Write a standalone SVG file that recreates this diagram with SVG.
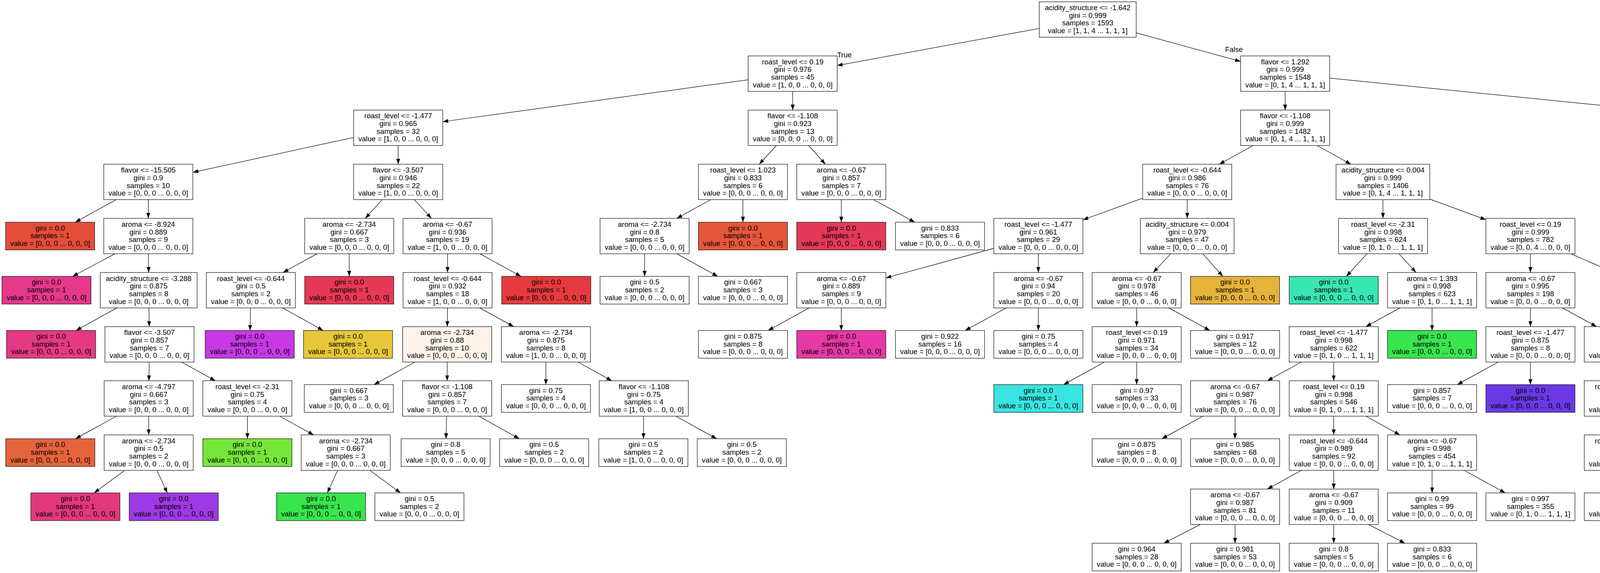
<svg xmlns="http://www.w3.org/2000/svg" width="6192" height="1468" viewBox="0 0 6192 1468">
<style>
text{font-family:"Liberation Sans",Arial,Helvetica,sans-serif;font-size:18.5px;text-anchor:middle;fill:#000}
#nodes rect{stroke:#1a1a1a;stroke-width:1.3}
#edges line,#edges path{stroke:#000;stroke-width:1.24;fill:none}
.lbl{text-anchor:middle}
</style>
<defs>
<marker id="arr" markerUnits="userSpaceOnUse" viewBox="0 0 14 10" refX="14" refY="5" markerWidth="14" markerHeight="10" orient="auto"><path d="M0,0L14,5L0,10z" fill="#000"/></marker>
</defs>
<rect x="0" y="0" width="6192" height="1468" fill="#fff"/>
<g id="edges" marker-end="url(#arr)">
<line x1="2660.6" y1="72.77" x2="2143.3" y2="167.77"/>
<line x1="2908.6" y1="84.03" x2="3176" y2="157.41"/>
<line x1="1915.3" y1="204.36" x2="1133.4" y2="311.74"/>
<line x1="2029.3" y1="234.05" x2="2029.3" y2="282.05"/>
<line x1="3290" y1="234.05" x2="3290" y2="282.05"/>
<line x1="3404" y1="200.14" x2="4558.7" y2="315.96"/>
<line x1="905.4" y1="352.11" x2="493.6" y2="441.39"/>
<line x1="1019.4" y1="372.75" x2="1019.4" y2="420.75"/>
<line x1="1987.64" y1="372.75" x2="1943.56" y2="420.75"/>
<line x1="2069.97" y1="372.75" x2="2113.03" y2="420.75"/>
<line x1="3208.03" y1="372.75" x2="3121.27" y2="420.75"/>
<line x1="3371.84" y1="372.75" x2="3458.46" y2="420.75"/>
<line x1="4672.9" y1="372.75" x2="4672.9" y2="420.75"/>
<line x1="4786.7" y1="358.78" x2="5062.6" y2="434.72"/>
<line x1="297.43" y1="511.45" x2="192.62" y2="569.3"/>
<line x1="379.6" y1="511.45" x2="379.6" y2="559.45"/>
<line x1="978.4" y1="511.45" x2="935" y2="559.45"/>
<line x1="1060.7" y1="511.45" x2="1104.4" y2="559.45"/>
<line x1="1819.6" y1="511.45" x2="1732.5" y2="559.45"/>
<line x1="1901.9" y1="511.45" x2="1901.9" y2="569.3"/>
<line x1="2153.7" y1="511.45" x2="2153.7" y2="569.3"/>
<line x1="2236.33" y1="511.45" x2="2341.72" y2="569.3"/>
<line x1="2925.3" y1="507.59" x2="2772.2" y2="563.31"/>
<line x1="3039.3" y1="511.45" x2="3039.3" y2="559.45"/>
<line x1="3540.4" y1="511.45" x2="3540.4" y2="559.45"/>
<line x1="3660.3" y1="510.18" x2="3803.9" y2="562.93"/>
<line x1="4631.8" y1="511.45" x2="4588.1" y2="559.45"/>
<line x1="4714.27" y1="511.45" x2="4766.78" y2="569.3"/>
<line x1="5176.6" y1="511.45" x2="5176.6" y2="559.45"/>
<line x1="5280.7" y1="511.45" x2="5390.9" y2="559.45"/>
<line x1="294.39" y1="650.15" x2="185.7" y2="708"/>
<line x1="379.6" y1="650.15" x2="380.6" y2="698.15"/>
<line x1="811.67" y1="650.15" x2="724.53" y2="698.15"/>
<line x1="894" y1="650.15" x2="894" y2="708"/>
<line x1="1145.7" y1="650.15" x2="1145.7" y2="698.15"/>
<line x1="1228.36" y1="650.15" x2="1333.8" y2="708"/>
<line x1="1650.2" y1="650.15" x2="1650.2" y2="708"/>
<line x1="1732.5" y1="650.15" x2="1837.48" y2="708"/>
<line x1="2544.2" y1="636.14" x2="2267.7" y2="712.16"/>
<line x1="2658.2" y1="650.15" x2="2658.2" y2="698.15"/>
<line x1="2996.99" y1="650.15" x2="2952.21" y2="698.15"/>
<line x1="3079.32" y1="650.15" x2="3130.37" y2="708"/>
<line x1="3499.34" y1="650.15" x2="3446.7" y2="708"/>
<line x1="3581.63" y1="650.15" x2="3625.07" y2="698.15"/>
<line x1="3917.9" y1="650.15" x2="3917.9" y2="698.15"/>
<line x1="4021.52" y1="650.15" x2="4131.18" y2="698.15"/>
<line x1="4527.25" y1="650.15" x2="4502.31" y2="708"/>
<line x1="4609.74" y1="650.15" x2="4690.03" y2="708"/>
<line x1="5115.91" y1="650.15" x2="5038.5" y2="708"/>
<line x1="5198.25" y1="650.15" x2="5221.15" y2="698.15"/>
<line x1="5495" y1="650.15" x2="5495" y2="708"/>
<line x1="5579.75" y1="650.15" x2="5669.45" y2="698.15"/>
<line x1="298.92" y1="788.85" x2="194.74" y2="846.7"/>
<line x1="381.25" y1="788.85" x2="381.95" y2="836.85"/>
<line x1="641.25" y1="788.85" x2="640.04" y2="846.7"/>
<line x1="723.55" y1="788.85" x2="827.32" y2="846.7"/>
<line x1="1145.4" y1="788.85" x2="1145" y2="836.85"/>
<line x1="1228.03" y1="788.85" x2="1315.17" y2="836.85"/>
<line x1="2071.37" y1="788.85" x2="1966.35" y2="846.7"/>
<line x1="2153.7" y1="788.85" x2="2153.7" y2="846.7"/>
<line x1="2575.87" y1="788.85" x2="2470.85" y2="846.7"/>
<line x1="2658.2" y1="788.85" x2="2658.2" y2="846.7"/>
<line x1="2909.9" y1="788.85" x2="2909.9" y2="836.85"/>
<line x1="2992.23" y1="788.85" x2="3097.25" y2="846.7"/>
<line x1="3583.8" y1="788.85" x2="3496.7" y2="836.85"/>
<line x1="3666.1" y1="788.85" x2="3666.1" y2="846.7"/>
<line x1="3917.9" y1="788.85" x2="3917.9" y2="836.85"/>
<line x1="4000.23" y1="788.85" x2="4087.37" y2="836.85"/>
<line x1="4319.06" y1="788.85" x2="4408.24" y2="836.85"/>
<path d="M4320,788.85C4420,812 4570,822 4654,846.7"/>
<line x1="5203.4" y1="788.85" x2="5153.14" y2="846.7"/>
<line x1="5285.7" y1="788.85" x2="5340.42" y2="846.7"/>
<line x1="5732.88" y1="788.85" x2="5705.69" y2="846.7"/>
<line x1="5817.14" y1="788.85" x2="5883.76" y2="836.85"/>
<line x1="381.95" y1="927.55" x2="381.25" y2="975.55"/>
<line x1="464.57" y1="927.55" x2="551.33" y2="975.55"/>
<line x1="1062.4" y1="927.55" x2="957.42" y2="985.4"/>
<line x1="1144.7" y1="927.55" x2="1144.7" y2="975.55"/>
<line x1="1397.5" y1="927.55" x2="1397.5" y2="985.4"/>
<line x1="1479.47" y1="927.55" x2="1566.23" y2="975.55"/>
<line x1="2827.6" y1="927.55" x2="2722.62" y2="985.4"/>
<line x1="2909.9" y1="927.55" x2="2909.9" y2="985.4"/>
<line x1="3331.77" y1="927.55" x2="3244.33" y2="975.55"/>
<line x1="3414.4" y1="927.55" x2="3414.4" y2="975.55"/>
<line x1="3835.57" y1="927.55" x2="3730.55" y2="985.4"/>
<line x1="3917.9" y1="927.55" x2="3917.9" y2="985.4"/>
<line x1="4169.7" y1="927.55" x2="4169.7" y2="975.55"/>
<line x1="4252.33" y1="927.55" x2="4357.72" y2="985.4"/>
<line x1="4551.85" y1="927.55" x2="4614.65" y2="975.55"/>
<line x1="4612.5" y1="920.6" x2="4814.97" y2="985.4"/>
<line x1="5905.7" y1="927.55" x2="5853.4" y2="985.4"/>
<line x1="5988" y1="927.55" x2="6040.67" y2="985.4"/>
<line x1="298.27" y1="1066.25" x2="193.25" y2="1124.1"/>
<line x1="380.6" y1="1066.25" x2="380.6" y2="1114.25"/>
<line x1="633.3" y1="1066.25" x2="633.3" y2="1124.1"/>
<line x1="715.63" y1="1066.25" x2="802.77" y2="1114.25"/>
<line x1="1143.42" y1="1066.25" x2="1141.8" y2="1124.1"/>
<line x1="1225.89" y1="1066.25" x2="1329.45" y2="1124.1"/>
<line x1="1647.8" y1="1066.25" x2="1647.3" y2="1124.1"/>
<line x1="1730.2" y1="1066.25" x2="1834.81" y2="1124.1"/>
<line x1="3079.37" y1="1066.25" x2="2974.35" y2="1124.1"/>
<line x1="3161.7" y1="1066.25" x2="3161.7" y2="1124.1"/>
<line x1="3414.4" y1="1066.25" x2="3414.4" y2="1114.25"/>
<line x1="3496.7" y1="1066.25" x2="3583.8" y2="1114.25"/>
<line x1="4169.7" y1="1066.25" x2="4169.7" y2="1114.25"/>
<line x1="4252.33" y1="1066.25" x2="4357.72" y2="1124.1"/>
<line x1="4674" y1="1066.25" x2="4674" y2="1124.1"/>
<line x1="4756.36" y1="1066.25" x2="4861.43" y2="1124.1"/>
<line x1="319.26" y1="1204.95" x2="241.02" y2="1262.8"/>
<line x1="401.59" y1="1204.95" x2="428.37" y2="1262.8"/>
<line x1="864.44" y1="1204.95" x2="838.08" y2="1262.8"/>
<line x1="946.77" y1="1204.95" x2="1025.43" y2="1262.8"/>
<line x1="3331.77" y1="1204.95" x2="3244.33" y2="1252.95"/>
<line x1="3414.4" y1="1204.95" x2="3414.4" y2="1252.95"/>
<line x1="3666.1" y1="1204.95" x2="3666.1" y2="1262.8"/>
<line x1="3748.43" y1="1204.95" x2="3853.45" y2="1262.8"/>
<line x1="4169.7" y1="1204.95" x2="4169.7" y2="1262.8"/>
<line x1="4252.33" y1="1204.95" x2="4357.72" y2="1262.8"/>
<line x1="3073.11" y1="1343.65" x2="2979.25" y2="1391.7"/>
<line x1="3161.7" y1="1343.65" x2="3161.7" y2="1391.7"/>
<line x1="3414.4" y1="1343.65" x2="3414.4" y2="1391.7"/>
<line x1="3502.96" y1="1343.65" x2="3596.78" y2="1391.7"/>
</g>
<g id="edge-labels">
<text class="lbl" x="2161.6" y="147">True</text>
<text class="lbl" x="3158.9" y="133.3">False</text>
</g>
<g id="nodes" fill="#ffffff">
<g id="n0" transform="translate(2784.6,50)"><rect x="-124" y="-45.35" width="248" height="90.7"/><text y="-24">acidity_structure &lt;= -1.642</text><text y="-4.3">gini = 0.999</text><text y="15.4">samples = 1593</text><text y="35.1">value = [1, 1, 4 ... 1, 1, 1]</text></g>
<g id="n1" transform="translate(2029.3,188.7)"><rect x="-114" y="-45.35" width="228" height="90.7"/><text y="-24">roast_level &lt;= 0.19</text><text y="-4.3">gini = 0.976</text><text y="15.4">samples = 45</text><text y="35.1">value = [1, 0, 0 ... 0, 0, 0]</text></g>
<g id="n2" transform="translate(3290,188.7)"><rect x="-114" y="-45.35" width="228" height="90.7"/><text y="-24">flavor &lt;= 1.292</text><text y="-4.3">gini = 0.999</text><text y="15.4">samples = 1548</text><text y="35.1">value = [0, 1, 4 ... 1, 1, 1]</text></g>
<g id="n3" transform="translate(1019.4,327.4)"><rect x="-114" y="-45.35" width="228" height="90.7"/><text y="-24">roast_level &lt;= -1.477</text><text y="-4.3">gini = 0.965</text><text y="15.4">samples = 32</text><text y="35.1">value = [1, 0, 0 ... 0, 0, 0]</text></g>
<g id="n4" transform="translate(2029.3,327.4)"><rect x="-114" y="-45.35" width="228" height="90.7"/><text y="-24">flavor &lt;= -1.108</text><text y="-4.3">gini = 0.923</text><text y="15.4">samples = 13</text><text y="35.1">value = [0, 0, 0 ... 0, 0, 0]</text></g>
<g id="n5" transform="translate(3290,327.4)"><rect x="-114" y="-45.35" width="228" height="90.7"/><text y="-24">flavor &lt;= -1.108</text><text y="-4.3">gini = 0.999</text><text y="15.4">samples = 1482</text><text y="35.1">value = [0, 1, 4 ... 1, 1, 1]</text></g>
<g id="n6" transform="translate(4672.7,327.4)"><rect x="-114" y="-45.35" width="228" height="90.7"/><text y="-24">roast_level &lt;= -1.477</text><text y="-4.3">gini = 0.984</text><text y="15.4">samples = 66</text><text y="35.1">value = [0, 0, 0 ... 0, 0, 0]</text></g>
<g id="n7" transform="translate(379.6,466.1)"><rect x="-114" y="-45.35" width="228" height="90.7"/><text y="-24">flavor &lt;= -15.505</text><text y="-4.3">gini = 0.9</text><text y="15.4">samples = 10</text><text y="35.1">value = [0, 0, 0 ... 0, 0, 0]</text></g>
<g id="n8" transform="translate(1019.4,466.1)"><rect x="-114" y="-45.35" width="228" height="90.7"/><text y="-24">flavor &lt;= -3.507</text><text y="-4.3">gini = 0.946</text><text y="15.4">samples = 22</text><text y="35.1">value = [1, 0, 0 ... 0, 0, 0]</text></g>
<g id="n9" transform="translate(1901.9,466.1)"><rect x="-114" y="-45.35" width="228" height="90.7"/><text y="-24">roast_level &lt;= 1.023</text><text y="-4.3">gini = 0.833</text><text y="15.4">samples = 6</text><text y="35.1">value = [0, 0, 0 ... 0, 0, 0]</text></g>
<g id="n10" transform="translate(2153.7,466.1)"><rect x="-114" y="-45.35" width="228" height="90.7"/><text y="-24">aroma &lt;= -0.67</text><text y="-4.3">gini = 0.857</text><text y="15.4">samples = 7</text><text y="35.1">value = [0, 0, 0 ... 0, 0, 0]</text></g>
<g id="n11" transform="translate(3039.3,466.1)"><rect x="-114" y="-45.35" width="228" height="90.7"/><text y="-24">roast_level &lt;= -0.644</text><text y="-4.3">gini = 0.986</text><text y="15.4">samples = 76</text><text y="35.1">value = [0, 0, 0 ... 0, 0, 0]</text></g>
<g id="n12" transform="translate(3540.3,466.1)"><rect x="-120" y="-45.35" width="240" height="90.7"/><text y="-24">acidity_structure &lt;= 0.004</text><text y="-4.3">gini = 0.999</text><text y="15.4">samples = 1406</text><text y="35.1">value = [0, 1, 4 ... 1, 1, 1]</text></g>
<g id="n13" transform="translate(4673.1,466.1)"><rect x="-120" y="-45.35" width="240" height="90.7"/><text y="-24">acidity_structure &lt;= 1.649</text><text y="-4.3">gini = 0.944</text><text y="15.4">samples = 18</text><text y="35.1">value = [0, 0, 0 ... 0, 0, 0]</text></g>
<g id="n14" transform="translate(5176.6,466.1)"><rect x="-114" y="-45.35" width="228" height="90.7"/><text y="-24">aroma &lt;= 1.393</text><text y="-4.3">gini = 0.977</text><text y="15.4">samples = 48</text><text y="35.1">value = [0, 0, 0 ... 0, 0, 0]</text></g>
<g id="n15" transform="translate(128.3,604.8)"><rect x="-114" y="-35.5" width="228" height="71" fill="#e54d39"/><text y="-14.2">gini = 0.0</text><text y="5.5">samples = 1</text><text y="25.2">value = [0, 0, 0 ... 0, 0, 0]</text></g>
<g id="n16" transform="translate(379.6,604.8)"><rect x="-114" y="-45.35" width="228" height="90.7"/><text y="-24">aroma &lt;= -8.924</text><text y="-4.3">gini = 0.889</text><text y="15.4">samples = 9</text><text y="35.1">value = [0, 0, 0 ... 0, 0, 0]</text></g>
<g id="n17" transform="translate(894,604.8)"><rect x="-114" y="-45.35" width="228" height="90.7"/><text y="-24">aroma &lt;= -2.734</text><text y="-4.3">gini = 0.667</text><text y="15.4">samples = 3</text><text y="35.1">value = [0, 0, 0 ... 0, 0, 0]</text></g>
<g id="n18" transform="translate(1145.7,604.8)"><rect x="-114" y="-45.35" width="228" height="90.7"/><text y="-24">aroma &lt;= -0.67</text><text y="-4.3">gini = 0.936</text><text y="15.4">samples = 19</text><text y="35.1">value = [1, 0, 0 ... 0, 0, 0]</text></g>
<g id="n19" transform="translate(1650.2,604.8)"><rect x="-114" y="-45.35" width="228" height="90.7"/><text y="-24">aroma &lt;= -2.734</text><text y="-4.3">gini = 0.8</text><text y="15.4">samples = 5</text><text y="35.1">value = [0, 0, 0 ... 0, 0, 0]</text></g>
<g id="n20" transform="translate(1901.9,604.8)"><rect x="-114" y="-35.5" width="228" height="71" fill="#e5573a"/><text y="-14.2">gini = 0.0</text><text y="5.5">samples = 1</text><text y="25.2">value = [0, 0, 0 ... 0, 0, 0]</text></g>
<g id="n21" transform="translate(2153.7,604.8)"><rect x="-114" y="-35.5" width="228" height="71" fill="#e5395a"/><text y="-14.2">gini = 0.0</text><text y="5.5">samples = 1</text><text y="25.2">value = [0, 0, 0 ... 0, 0, 0]</text></g>
<g id="n22" transform="translate(2406.4,604.8)"><rect x="-114" y="-35.5" width="228" height="71"/><text y="-14.2">gini = 0.833</text><text y="5.5">samples = 6</text><text y="25.2">value = [0, 0, 0 ... 0, 0, 0]</text></g>
<g id="n23" transform="translate(2658.2,604.8)"><rect x="-114" y="-45.35" width="228" height="90.7"/><text y="-24">roast_level &lt;= -1.477</text><text y="-4.3">gini = 0.961</text><text y="15.4">samples = 29</text><text y="35.1">value = [0, 0, 0 ... 0, 0, 0]</text></g>
<g id="n24" transform="translate(3039.3,604.8)"><rect x="-120" y="-45.35" width="240" height="90.7"/><text y="-24">acidity_structure &lt;= 0.004</text><text y="-4.3">gini = 0.979</text><text y="15.4">samples = 47</text><text y="35.1">value = [0, 0, 0 ... 0, 0, 0]</text></g>
<g id="n25" transform="translate(3540.6,604.8)"><rect x="-114" y="-45.35" width="228" height="90.7"/><text y="-24">roast_level &lt;= -2.31</text><text y="-4.3">gini = 0.998</text><text y="15.4">samples = 624</text><text y="35.1">value = [0, 1, 0 ... 1, 1, 1]</text></g>
<g id="n26" transform="translate(3917.9,604.8)"><rect x="-114" y="-45.35" width="228" height="90.7"/><text y="-24">roast_level &lt;= 0.19</text><text y="-4.3">gini = 0.999</text><text y="15.4">samples = 782</text><text y="35.1">value = [0, 0, 4 ... 0, 0, 0]</text></g>
<g id="n27" transform="translate(4546.8,604.8)"><rect x="-114" y="-45.35" width="228" height="90.7"/><text y="-24">aroma &lt;= -1.393</text><text y="-4.3">gini = 0.941</text><text y="15.4">samples = 17</text><text y="35.1">value = [0, 0, 0 ... 0, 0, 0]</text></g>
<g id="n28" transform="translate(4799,604.8)"><rect x="-114" y="-35.5" width="228" height="71" fill="#e54f39"/><text y="-14.2">gini = 0.0</text><text y="5.5">samples = 1</text><text y="25.2">value = [0, 0, 0 ... 0, 0, 0]</text></g>
<g id="n29" transform="translate(5176.6,604.8)"><rect x="-120" y="-45.35" width="240" height="90.7"/><text y="-24">acidity_structure &lt;= 0.004</text><text y="-4.3">gini = 0.971</text><text y="15.4">samples = 38</text><text y="35.1">value = [0, 0, 0 ... 0, 0, 0]</text></g>
<g id="n30" transform="translate(5495,604.8)"><rect x="-114" y="-45.35" width="228" height="90.7"/><text y="-24">roast_level &lt;= -0.227</text><text y="-4.3">gini = 0.9</text><text y="15.4">samples = 10</text><text y="35.1">value = [0, 0, 0 ... 0, 0, 0]</text></g>
<g id="n31" transform="translate(119,743.5)"><rect x="-114" y="-35.5" width="228" height="71" fill="#e5398b"/><text y="-14.2">gini = 0.0</text><text y="5.5">samples = 1</text><text y="25.2">value = [0, 0, 0 ... 0, 0, 0]</text></g>
<g id="n32" transform="translate(380.6,743.5)"><rect x="-124" y="-45.35" width="248" height="90.7"/><text y="-24">acidity_structure &lt;= -3.288</text><text y="-4.3">gini = 0.875</text><text y="15.4">samples = 8</text><text y="35.1">value = [0, 0, 0 ... 0, 0, 0]</text></g>
<g id="n33" transform="translate(642.2,743.5)"><rect x="-114" y="-45.35" width="228" height="90.7"/><text y="-24">roast_level &lt;= -0.644</text><text y="-4.3">gini = 0.5</text><text y="15.4">samples = 2</text><text y="35.1">value = [0, 0, 0 ... 0, 0, 0]</text></g>
<g id="n34" transform="translate(894,743.5)"><rect x="-114" y="-35.5" width="228" height="71" fill="#e53955"/><text y="-14.2">gini = 0.0</text><text y="5.5">samples = 1</text><text y="25.2">value = [0, 0, 0 ... 0, 0, 0]</text></g>
<g id="n35" transform="translate(1145.7,743.5)"><rect x="-114" y="-45.35" width="228" height="90.7"/><text y="-24">roast_level &lt;= -0.644</text><text y="-4.3">gini = 0.932</text><text y="15.4">samples = 18</text><text y="35.1">value = [1, 0, 0 ... 0, 0, 0]</text></g>
<g id="n36" transform="translate(1398.5,743.5)"><rect x="-114" y="-35.5" width="228" height="71" fill="#e53a3d"/><text y="-14.2">gini = 0.0</text><text y="5.5">samples = 1</text><text y="25.2">value = [0, 0, 0 ... 0, 0, 0]</text></g>
<g id="n37" transform="translate(1650.2,743.5)"><rect x="-114" y="-35.5" width="228" height="71"/><text y="-14.2">gini = 0.5</text><text y="5.5">samples = 2</text><text y="25.2">value = [0, 0, 0 ... 0, 0, 0]</text></g>
<g id="n38" transform="translate(1901.9,743.5)"><rect x="-114" y="-35.5" width="228" height="71"/><text y="-14.2">gini = 0.667</text><text y="5.5">samples = 3</text><text y="25.2">value = [0, 0, 0 ... 0, 0, 0]</text></g>
<g id="n39" transform="translate(2153.7,743.5)"><rect x="-114" y="-45.35" width="228" height="90.7"/><text y="-24">aroma &lt;= -0.67</text><text y="-4.3">gini = 0.889</text><text y="15.4">samples = 9</text><text y="35.1">value = [0, 0, 0 ... 0, 0, 0]</text></g>
<g id="n40" transform="translate(2658.2,743.5)"><rect x="-114" y="-45.35" width="228" height="90.7"/><text y="-24">aroma &lt;= -0.67</text><text y="-4.3">gini = 0.94</text><text y="15.4">samples = 20</text><text y="35.1">value = [0, 0, 0 ... 0, 0, 0]</text></g>
<g id="n41" transform="translate(2909.9,743.5)"><rect x="-114" y="-45.35" width="228" height="90.7"/><text y="-24">aroma &lt;= -0.67</text><text y="-4.3">gini = 0.978</text><text y="15.4">samples = 46</text><text y="35.1">value = [0, 0, 0 ... 0, 0, 0]</text></g>
<g id="n42" transform="translate(3161.7,743.5)"><rect x="-114" y="-35.5" width="228" height="71" fill="#e5b23a"/><text y="-14.2">gini = 0.0</text><text y="5.5">samples = 1</text><text y="25.2">value = [0, 0, 0 ... 0, 0, 0]</text></g>
<g id="n43" transform="translate(3414.4,743.5)"><rect x="-114" y="-35.5" width="228" height="71" fill="#39e5b2"/><text y="-14.2">gini = 0.0</text><text y="5.5">samples = 1</text><text y="25.2">value = [0, 0, 0 ... 0, 0, 0]</text></g>
<g id="n44" transform="translate(3666.1,743.5)"><rect x="-114" y="-45.35" width="228" height="90.7"/><text y="-24">aroma &lt;= 1.393</text><text y="-4.3">gini = 0.998</text><text y="15.4">samples = 623</text><text y="35.1">value = [0, 1, 0 ... 1, 1, 1]</text></g>
<g id="n45" transform="translate(3917.9,743.5)"><rect x="-114" y="-45.35" width="228" height="90.7"/><text y="-24">aroma &lt;= -0.67</text><text y="-4.3">gini = 0.995</text><text y="15.4">samples = 198</text><text y="35.1">value = [0, 0, 0 ... 0, 0, 0]</text></g>
<g id="n46" transform="translate(4234.8,743.5)"><rect x="-114" y="-45.35" width="228" height="90.7"/><text y="-24">aroma &lt;= 1.393</text><text y="-4.3">gini = 0.998</text><text y="15.4">samples = 584</text><text y="35.1">value = [0, 0, 4 ... 0, 0, 0]</text></g>
<g id="n47" transform="translate(4487,743.5)"><rect x="-114" y="-35.5" width="228" height="71"/><text y="-14.2">gini = 0.929</text><text y="5.5">samples = 14</text><text y="25.2">value = [0, 0, 0 ... 0, 0, 0]</text></g>
<g id="n48" transform="translate(4739.3,743.5)"><rect x="-114" y="-35.5" width="228" height="71"/><text y="-14.2">gini = 0.667</text><text y="5.5">samples = 3</text><text y="25.2">value = [0, 0, 0 ... 0, 0, 0]</text></g>
<g id="n49" transform="translate(4991,743.5)"><rect x="-114" y="-35.5" width="228" height="71"/><text y="-14.2">gini = 0.5</text><text y="5.5">samples = 2</text><text y="25.2">value = [0, 0, 0 ... 0, 0, 0]</text></g>
<g id="n50" transform="translate(5242.8,743.5)"><rect x="-114" y="-45.35" width="228" height="90.7"/><text y="-24">roast_level &lt;= -0.227</text><text y="-4.3">gini = 0.969</text><text y="15.4">samples = 36</text><text y="35.1">value = [0, 0, 0 ... 0, 0, 0]</text></g>
<g id="n51" transform="translate(5495,743.5)"><rect x="-114" y="-35.5" width="228" height="71" fill="#e5397f"/><text y="-14.2">gini = 0.0</text><text y="5.5">samples = 1</text><text y="25.2">value = [0, 0, 0 ... 0, 0, 0]</text></g>
<g id="n52" transform="translate(5754.2,743.5)"><rect x="-120" y="-45.35" width="240" height="90.7"/><text y="-24">acidity_structure &lt;= 0.004</text><text y="-4.3">gini = 0.889</text><text y="15.4">samples = 9</text><text y="35.1">value = [0, 0, 0 ... 0, 0, 0]</text></g>
<g id="n53" transform="translate(130.8,882.2)"><rect x="-114" y="-35.5" width="228" height="71" fill="#e53986"/><text y="-14.2">gini = 0.0</text><text y="5.5">samples = 1</text><text y="25.2">value = [0, 0, 0 ... 0, 0, 0]</text></g>
<g id="n54" transform="translate(382.6,882.2)"><rect x="-114" y="-45.35" width="228" height="90.7"/><text y="-24">flavor &lt;= -3.507</text><text y="-4.3">gini = 0.857</text><text y="15.4">samples = 7</text><text y="35.1">value = [0, 0, 0 ... 0, 0, 0]</text></g>
<g id="n55" transform="translate(639.3,882.2)"><rect x="-114" y="-35.5" width="228" height="71" fill="#c739e5"/><text y="-14.2">gini = 0.0</text><text y="5.5">samples = 1</text><text y="25.2">value = [0, 0, 0 ... 0, 0, 0]</text></g>
<g id="n56" transform="translate(891,882.2)"><rect x="-114" y="-35.5" width="228" height="71" fill="#e5c739"/><text y="-14.2">gini = 0.0</text><text y="5.5">samples = 1</text><text y="25.2">value = [0, 0, 0 ... 0, 0, 0]</text></g>
<g id="n57" transform="translate(1144.7,882.2)"><rect x="-114" y="-45.35" width="228" height="90.7" fill="#fdf3ea"/><text y="-24">aroma &lt;= -2.734</text><text y="-4.3">gini = 0.88</text><text y="15.4">samples = 10</text><text y="35.1">value = [0, 0, 0 ... 0, 0, 0]</text></g>
<g id="n58" transform="translate(1397.5,882.2)"><rect x="-114" y="-45.35" width="228" height="90.7"/><text y="-24">aroma &lt;= -2.734</text><text y="-4.3">gini = 0.875</text><text y="15.4">samples = 8</text><text y="35.1">value = [1, 0, 0 ... 0, 0, 0]</text></g>
<g id="n59" transform="translate(1901.9,882.2)"><rect x="-114" y="-35.5" width="228" height="71"/><text y="-14.2">gini = 0.875</text><text y="5.5">samples = 8</text><text y="25.2">value = [0, 0, 0 ... 0, 0, 0]</text></g>
<g id="n60" transform="translate(2153.7,882.2)"><rect x="-114" y="-35.5" width="228" height="71" fill="#e539a6"/><text y="-14.2">gini = 0.0</text><text y="5.5">samples = 1</text><text y="25.2">value = [0, 0, 0 ... 0, 0, 0]</text></g>
<g id="n61" transform="translate(2406.4,882.2)"><rect x="-114" y="-35.5" width="228" height="71"/><text y="-14.2">gini = 0.922</text><text y="5.5">samples = 16</text><text y="25.2">value = [0, 0, 0 ... 0, 0, 0]</text></g>
<g id="n62" transform="translate(2658.2,882.2)"><rect x="-114" y="-35.5" width="228" height="71"/><text y="-14.2">gini = 0.75</text><text y="5.5">samples = 4</text><text y="25.2">value = [0, 0, 0 ... 0, 0, 0]</text></g>
<g id="n63" transform="translate(2909.9,882.2)"><rect x="-114" y="-45.35" width="228" height="90.7"/><text y="-24">roast_level &lt;= 0.19</text><text y="-4.3">gini = 0.971</text><text y="15.4">samples = 34</text><text y="35.1">value = [0, 0, 0 ... 0, 0, 0]</text></g>
<g id="n64" transform="translate(3161.7,882.2)"><rect x="-114" y="-35.5" width="228" height="71"/><text y="-14.2">gini = 0.917</text><text y="5.5">samples = 12</text><text y="25.2">value = [0, 0, 0 ... 0, 0, 0]</text></g>
<g id="n65" transform="translate(3414.4,882.2)"><rect x="-114" y="-45.35" width="228" height="90.7"/><text y="-24">roast_level &lt;= -1.477</text><text y="-4.3">gini = 0.998</text><text y="15.4">samples = 622</text><text y="35.1">value = [0, 1, 0 ... 1, 1, 1]</text></g>
<g id="n66" transform="translate(3666.1,882.2)"><rect x="-114" y="-35.5" width="228" height="71" fill="#39e54f"/><text y="-14.2">gini = 0.0</text><text y="5.5">samples = 1</text><text y="25.2">value = [0, 0, 0 ... 0, 0, 0]</text></g>
<g id="n67" transform="translate(3917.9,882.2)"><rect x="-114" y="-45.35" width="228" height="90.7"/><text y="-24">roast_level &lt;= -1.477</text><text y="-4.3">gini = 0.875</text><text y="15.4">samples = 8</text><text y="35.1">value = [0, 0, 0 ... 0, 0, 0]</text></g>
<g id="n68" transform="translate(4169.7,882.2)"><rect x="-114" y="-45.35" width="228" height="90.7"/><text y="-24">aroma &lt;= 1.393</text><text y="-4.3">gini = 0.995</text><text y="15.4">samples = 190</text><text y="35.1">value = [0, 0, 0 ... 0, 0, 0]</text></g>
<g id="n69" transform="translate(4492.5,882.2)"><rect x="-120" y="-45.35" width="240" height="90.7"/><text y="-24">acidity_structure &lt;= 1.649</text><text y="-4.3">gini = 0.998</text><text y="15.4">samples = 580</text><text y="35.1">value = [0, 0, 4 ... 0, 0, 0]</text></g>
<g id="n70" transform="translate(4751.1,882.2)"><rect x="-114" y="-35.5" width="228" height="71"/><text y="-14.2">gini = 0.75</text><text y="5.5">samples = 4</text><text y="25.2">value = [0, 0, 0 ... 0, 0, 0]</text></g>
<g id="n71" transform="translate(5122.3,882.2)"><rect x="-114" y="-35.5" width="228" height="71"/><text y="-14.2">gini = 0.667</text><text y="5.5">samples = 3</text><text y="25.2">value = [0, 0, 0 ... 0, 0, 0]</text></g>
<g id="n72" transform="translate(5374,882.2)"><rect x="-114" y="-35.5" width="228" height="71" fill="#fef9fd"/><text y="-14.2">gini = 0.968</text><text y="5.5">samples = 33</text><text y="25.2">value = [0, 0, 0 ... 0, 0, 0]</text></g>
<g id="n73" transform="translate(5689,882.2)"><rect x="-114" y="-35.5" width="228" height="71"/><text y="-14.2">gini = 0.5</text><text y="5.5">samples = 2</text><text y="25.2">value = [0, 0, 0 ... 0, 0, 0]</text></g>
<g id="n74" transform="translate(5946.7,882.2)"><rect x="-120" y="-45.35" width="240" height="90.7"/><text y="-24">acidity_structure &lt;= 1.649</text><text y="-4.3">gini = 0.857</text><text y="15.4">samples = 7</text><text y="35.1">value = [0, 0, 0 ... 0, 0, 0]</text></g>
<g id="n75" transform="translate(380.6,1020.9)"><rect x="-114" y="-45.35" width="228" height="90.7"/><text y="-24">aroma &lt;= -4.797</text><text y="-4.3">gini = 0.667</text><text y="15.4">samples = 3</text><text y="35.1">value = [0, 0, 0 ... 0, 0, 0]</text></g>
<g id="n76" transform="translate(633.3,1020.9)"><rect x="-114" y="-45.35" width="228" height="90.7"/><text y="-24">roast_level &lt;= -2.31</text><text y="-4.3">gini = 0.75</text><text y="15.4">samples = 4</text><text y="35.1">value = [0, 0, 0 ... 0, 0, 0]</text></g>
<g id="n77" transform="translate(893,1020.9)"><rect x="-114" y="-35.5" width="228" height="71"/><text y="-14.2">gini = 0.667</text><text y="5.5">samples = 3</text><text y="25.2">value = [0, 0, 0 ... 0, 0, 0]</text></g>
<g id="n78" transform="translate(1144.7,1020.9)"><rect x="-114" y="-45.35" width="228" height="90.7"/><text y="-24">flavor &lt;= -1.108</text><text y="-4.3">gini = 0.857</text><text y="15.4">samples = 7</text><text y="35.1">value = [0, 0, 0 ... 0, 0, 0]</text></g>
<g id="n79" transform="translate(1397.5,1020.9)"><rect x="-114" y="-35.5" width="228" height="71"/><text y="-14.2">gini = 0.75</text><text y="5.5">samples = 4</text><text y="25.2">value = [0, 0, 0 ... 0, 0, 0]</text></g>
<g id="n80" transform="translate(1648.2,1020.9)"><rect x="-114" y="-45.35" width="228" height="90.7"/><text y="-24">flavor &lt;= -1.108</text><text y="-4.3">gini = 0.75</text><text y="15.4">samples = 4</text><text y="35.1">value = [1, 0, 0 ... 0, 0, 0]</text></g>
<g id="n81" transform="translate(2658.2,1020.9)"><rect x="-114" y="-35.5" width="228" height="71" fill="#39e5e0"/><text y="-14.2">gini = 0.0</text><text y="5.5">samples = 1</text><text y="25.2">value = [0, 0, 0 ... 0, 0, 0]</text></g>
<g id="n82" transform="translate(2909.9,1020.9)"><rect x="-114" y="-35.5" width="228" height="71"/><text y="-14.2">gini = 0.97</text><text y="5.5">samples = 33</text><text y="25.2">value = [0, 0, 0 ... 0, 0, 0]</text></g>
<g id="n83" transform="translate(3161.7,1020.9)"><rect x="-114" y="-45.35" width="228" height="90.7"/><text y="-24">aroma &lt;= -0.67</text><text y="-4.3">gini = 0.987</text><text y="15.4">samples = 76</text><text y="35.1">value = [0, 0, 0 ... 0, 0, 0]</text></g>
<g id="n84" transform="translate(3414.4,1020.9)"><rect x="-114" y="-45.35" width="228" height="90.7"/><text y="-24">roast_level &lt;= 0.19</text><text y="-4.3">gini = 0.998</text><text y="15.4">samples = 546</text><text y="35.1">value = [0, 1, 0 ... 1, 1, 1]</text></g>
<g id="n85" transform="translate(3666.1,1020.9)"><rect x="-114" y="-35.5" width="228" height="71"/><text y="-14.2">gini = 0.857</text><text y="5.5">samples = 7</text><text y="25.2">value = [0, 0, 0 ... 0, 0, 0]</text></g>
<g id="n86" transform="translate(3917.9,1020.9)"><rect x="-114" y="-35.5" width="228" height="71" fill="#6a39e5"/><text y="-14.2">gini = 0.0</text><text y="5.5">samples = 1</text><text y="25.2">value = [0, 0, 0 ... 0, 0, 0]</text></g>
<g id="n87" transform="translate(4169.7,1020.9)"><rect x="-114" y="-45.35" width="228" height="90.7"/><text y="-24">roast_level &lt;= -0.644</text><text y="-4.3">gini = 0.995</text><text y="15.4">samples = 189</text><text y="35.1">value = [0, 0, 0 ... 0, 0, 0]</text></g>
<g id="n88" transform="translate(4422.4,1020.9)"><rect x="-114" y="-35.5" width="228" height="71" fill="#68e539"/><text y="-14.2">gini = 0.0</text><text y="5.5">samples = 1</text><text y="25.2">value = [0, 0, 0 ... 0, 0, 0]</text></g>
<g id="n89" transform="translate(4674,1020.9)"><rect x="-114" y="-45.35" width="228" height="90.7"/><text y="-24">aroma &lt;= -0.67</text><text y="-4.3">gini = 0.998</text><text y="15.4">samples = 577</text><text y="35.1">value = [0, 0, 4 ... 0, 0, 0]</text></g>
<g id="n90" transform="translate(4925.9,1020.9)"><rect x="-114" y="-35.5" width="228" height="71"/><text y="-14.2">gini = 0.667</text><text y="5.5">samples = 3</text><text y="25.2">value = [0, 0, 0 ... 0, 0, 0]</text></g>
<g id="n91" transform="translate(5821.3,1020.9)"><rect x="-114" y="-35.5" width="228" height="71"/><text y="-14.2">gini = 0.833</text><text y="5.5">samples = 6</text><text y="25.2">value = [0, 0, 0 ... 0, 0, 0]</text></g>
<g id="n92" transform="translate(6073,1020.9)"><rect x="-114" y="-35.5" width="228" height="71" fill="#39c5e5"/><text y="-14.2">gini = 0.0</text><text y="5.5">samples = 1</text><text y="25.2">value = [0, 0, 0 ... 0, 0, 0]</text></g>
<g id="n93" transform="translate(128.8,1159.6)"><rect x="-114" y="-35.5" width="228" height="71" fill="#e5633c"/><text y="-14.2">gini = 0.0</text><text y="5.5">samples = 1</text><text y="25.2">value = [0, 0, 0 ... 0, 0, 0]</text></g>
<g id="n94" transform="translate(380.6,1159.6)"><rect x="-114" y="-45.35" width="228" height="90.7"/><text y="-24">aroma &lt;= -2.734</text><text y="-4.3">gini = 0.5</text><text y="15.4">samples = 2</text><text y="35.1">value = [0, 0, 0 ... 0, 0, 0]</text></g>
<g id="n95" transform="translate(633.3,1159.6)"><rect x="-114" y="-35.5" width="228" height="71" fill="#76e539"/><text y="-14.2">gini = 0.0</text><text y="5.5">samples = 1</text><text y="25.2">value = [0, 0, 0 ... 0, 0, 0]</text></g>
<g id="n96" transform="translate(885.1,1159.6)"><rect x="-114" y="-45.35" width="228" height="90.7"/><text y="-24">aroma &lt;= -2.734</text><text y="-4.3">gini = 0.667</text><text y="15.4">samples = 3</text><text y="35.1">value = [0, 0, 0 ... 0, 0, 0]</text></g>
<g id="n97" transform="translate(1140.8,1159.6)"><rect x="-114" y="-35.5" width="228" height="71"/><text y="-14.2">gini = 0.8</text><text y="5.5">samples = 5</text><text y="25.2">value = [0, 0, 0 ... 0, 0, 0]</text></g>
<g id="n98" transform="translate(1393,1159.6)"><rect x="-114" y="-35.5" width="228" height="71"/><text y="-14.2">gini = 0.5</text><text y="5.5">samples = 2</text><text y="25.2">value = [0, 0, 0 ... 0, 0, 0]</text></g>
<g id="n99" transform="translate(1647,1159.6)"><rect x="-114" y="-35.5" width="228" height="71"/><text y="-14.2">gini = 0.5</text><text y="5.5">samples = 2</text><text y="25.2">value = [1, 0, 0 ... 0, 0, 0]</text></g>
<g id="n100" transform="translate(1899,1159.6)"><rect x="-114" y="-35.5" width="228" height="71"/><text y="-14.2">gini = 0.5</text><text y="5.5">samples = 2</text><text y="25.2">value = [0, 0, 0 ... 0, 0, 0]</text></g>
<g id="n101" transform="translate(2909.9,1159.6)"><rect x="-114" y="-35.5" width="228" height="71"/><text y="-14.2">gini = 0.875</text><text y="5.5">samples = 8</text><text y="25.2">value = [0, 0, 0 ... 0, 0, 0]</text></g>
<g id="n102" transform="translate(3161.7,1159.6)"><rect x="-114" y="-35.5" width="228" height="71"/><text y="-14.2">gini = 0.985</text><text y="5.5">samples = 68</text><text y="25.2">value = [0, 0, 0 ... 0, 0, 0]</text></g>
<g id="n103" transform="translate(3414.4,1159.6)"><rect x="-114" y="-45.35" width="228" height="90.7"/><text y="-24">roast_level &lt;= -0.644</text><text y="-4.3">gini = 0.989</text><text y="15.4">samples = 92</text><text y="35.1">value = [0, 0, 0 ... 0, 0, 0]</text></g>
<g id="n104" transform="translate(3666.1,1159.6)"><rect x="-114" y="-45.35" width="228" height="90.7"/><text y="-24">aroma &lt;= -0.67</text><text y="-4.3">gini = 0.998</text><text y="15.4">samples = 454</text><text y="35.1">value = [0, 1, 0 ... 1, 1, 1]</text></g>
<g id="n105" transform="translate(4169.7,1159.6)"><rect x="-114" y="-45.35" width="228" height="90.7"/><text y="-24">roast_level &lt;= -1.477</text><text y="-4.3">gini = 0.994</text><text y="15.4">samples = 184</text><text y="35.1">value = [0, 0, 0 ... 0, 0, 0]</text></g>
<g id="n106" transform="translate(4422.4,1159.6)"><rect x="-114" y="-35.5" width="228" height="71"/><text y="-14.2">gini = 0.8</text><text y="5.5">samples = 5</text><text y="25.2">value = [0, 0, 0 ... 0, 0, 0]</text></g>
<g id="n107" transform="translate(4674,1159.6)"><rect x="-114" y="-35.5" width="228" height="71"/><text y="-14.2">gini = 0.962</text><text y="5.5">samples = 26</text><text y="25.2">value = [0, 0, 0 ... 0, 0, 0]</text></g>
<g id="n108" transform="translate(4925.9,1159.6)"><rect x="-114" y="-35.5" width="228" height="71"/><text y="-14.2">gini = 0.998</text><text y="5.5">samples = 551</text><text y="25.2">value = [0, 0, 4 ... 0, 0, 0]</text></g>
<g id="n109" transform="translate(193,1298.3)"><rect x="-114" y="-35.5" width="228" height="71" fill="#e3387a"/><text y="-14.2">gini = 0.0</text><text y="5.5">samples = 1</text><text y="25.2">value = [0, 0, 0 ... 0, 0, 0]</text></g>
<g id="n110" transform="translate(444.8,1298.3)"><rect x="-114" y="-35.5" width="228" height="71" fill="#9d39e5"/><text y="-14.2">gini = 0.0</text><text y="5.5">samples = 1</text><text y="25.2">value = [0, 0, 0 ... 0, 0, 0]</text></g>
<g id="n111" transform="translate(821.9,1298.3)"><rect x="-114" y="-35.5" width="228" height="71" fill="#39e54d"/><text y="-14.2">gini = 0.0</text><text y="5.5">samples = 1</text><text y="25.2">value = [0, 0, 0 ... 0, 0, 0]</text></g>
<g id="n112" transform="translate(1073.7,1298.3)"><rect x="-114" y="-35.5" width="228" height="71"/><text y="-14.2">gini = 0.5</text><text y="5.5">samples = 2</text><text y="25.2">value = [0, 0, 0 ... 0, 0, 0]</text></g>
<g id="n113" transform="translate(3161.7,1298.3)"><rect x="-114" y="-45.35" width="228" height="90.7"/><text y="-24">aroma &lt;= -0.67</text><text y="-4.3">gini = 0.987</text><text y="15.4">samples = 81</text><text y="35.1">value = [0, 0, 0 ... 0, 0, 0]</text></g>
<g id="n114" transform="translate(3414.4,1298.3)"><rect x="-114" y="-45.35" width="228" height="90.7"/><text y="-24">aroma &lt;= -0.67</text><text y="-4.3">gini = 0.909</text><text y="15.4">samples = 11</text><text y="35.1">value = [0, 0, 0 ... 0, 0, 0]</text></g>
<g id="n115" transform="translate(3666.1,1298.3)"><rect x="-114" y="-35.5" width="228" height="71"/><text y="-14.2">gini = 0.99</text><text y="5.5">samples = 99</text><text y="25.2">value = [0, 0, 0 ... 0, 0, 0]</text></g>
<g id="n116" transform="translate(3917.9,1298.3)"><rect x="-114" y="-35.5" width="228" height="71"/><text y="-14.2">gini = 0.997</text><text y="5.5">samples = 355</text><text y="25.2">value = [0, 1, 0 ... 1, 1, 1]</text></g>
<g id="n117" transform="translate(4169.7,1298.3)"><rect x="-114" y="-35.5" width="228" height="71"/><text y="-14.2">gini = 0.993</text><text y="5.5">samples = 153</text><text y="25.2">value = [0, 0, 0 ... 0, 0, 0]</text></g>
<g id="n118" transform="translate(4422.4,1298.3)"><rect x="-114" y="-35.5" width="228" height="71"/><text y="-14.2">gini = 0.968</text><text y="5.5">samples = 31</text><text y="25.2">value = [0, 0, 0 ... 0, 0, 0]</text></g>
<g id="n119" transform="translate(2909.9,1427.2)"><rect x="-114" y="-35.5" width="228" height="71"/><text y="-14.2">gini = 0.964</text><text y="5.5">samples = 28</text><text y="25.2">value = [0, 0, 0 ... 0, 0, 0]</text></g>
<g id="n120" transform="translate(3161.7,1427.2)"><rect x="-114" y="-35.5" width="228" height="71"/><text y="-14.2">gini = 0.981</text><text y="5.5">samples = 53</text><text y="25.2">value = [0, 0, 0 ... 0, 0, 0]</text></g>
<g id="n121" transform="translate(3414.4,1427.2)"><rect x="-114" y="-35.5" width="228" height="71"/><text y="-14.2">gini = 0.8</text><text y="5.5">samples = 5</text><text y="25.2">value = [0, 0, 0 ... 0, 0, 0]</text></g>
<g id="n122" transform="translate(3666.1,1427.2)"><rect x="-114" y="-35.5" width="228" height="71"/><text y="-14.2">gini = 0.833</text><text y="5.5">samples = 6</text><text y="25.2">value = [0, 0, 0 ... 0, 0, 0]</text></g>
</g>
</svg>
